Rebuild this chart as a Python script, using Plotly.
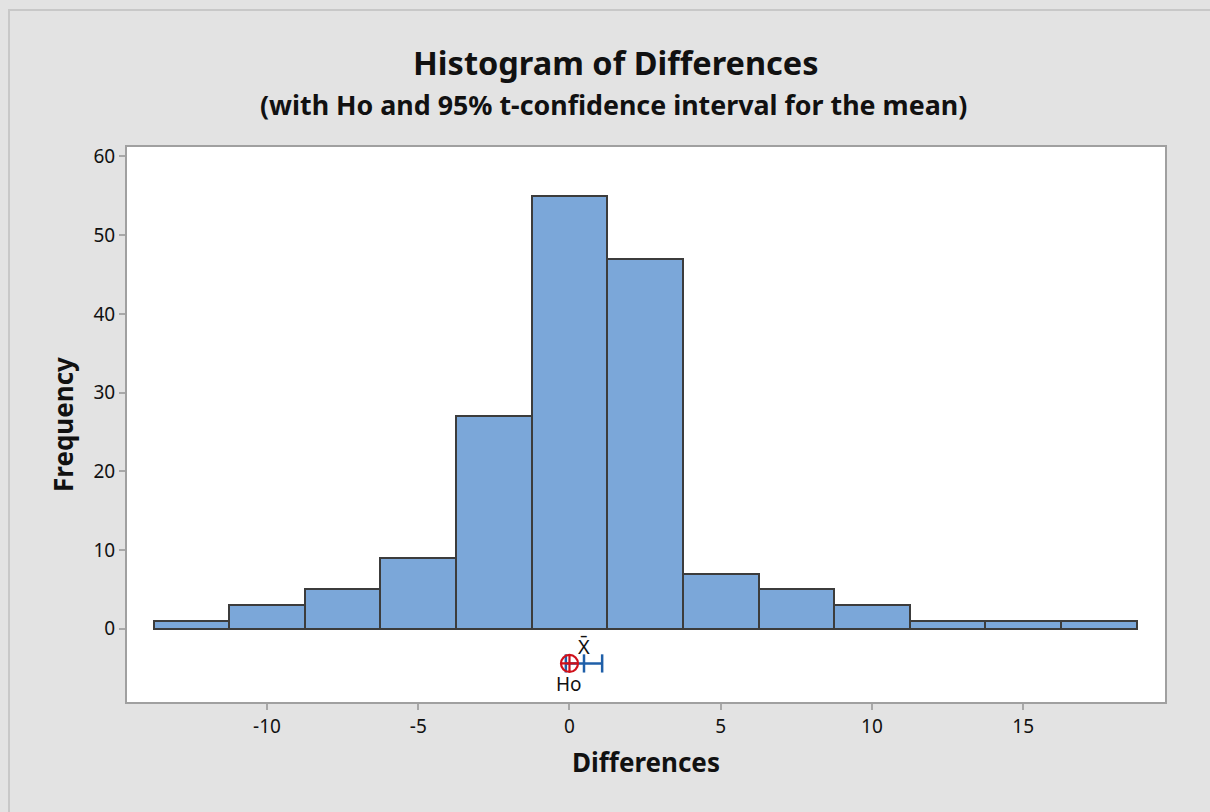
import plotly.graph_objects as go

bin_centers = [-12.5, -10, -7.5, -5, -2.5, 0, 2.5, 5, 7.5, 10, 12.5, 15, 17.5]
counts = [1, 3, 5, 9, 27, 55, 47, 7, 5, 3, 1, 1, 1]
bin_width = 2.5
h0 = 0.0
xbar = 0.48
ci_low, ci_high = -0.12, 1.08
ci_y = -4.4
x_ticks = [-10, -5, 0, 5, 10, 15]
x_tick_labels = ["-10", "-5", "0", "5", "10", "15"]
y_ticks = [0, 10, 20, 30, 40, 50, 60]

FONT = "Noto Sans"
fig = go.Figure()
fig.add_trace(go.Bar(
    x=bin_centers, y=counts, width=bin_width,
    marker=dict(color="#7BA7D9", line=dict(color="#3C3C3C", width=2)),
    hoverinfo="x+y", showlegend=False,
))
# CI line
fig.add_trace(go.Scatter(
    x=[ci_low, ci_high], y=[ci_y, ci_y], mode="lines+markers",
    line=dict(color="#1F5FA8", width=2.5),
    marker=dict(symbol="line-ns", size=13, line=dict(color="#1F5FA8", width=2.5)),
    showlegend=False, hoverinfo="skip",
))
fig.add_trace(go.Scatter(
    x=[xbar], y=[ci_y], mode="markers",
    marker=dict(symbol="line-ns", size=13, line=dict(color="#1F5FA8", width=2.5)),
    showlegend=False, hoverinfo="skip",
))
fig.add_trace(go.Scatter(
    x=[h0], y=[ci_y], mode="markers",
    marker=dict(symbol="circle-cross-open", size=17, color="#D0101A",
                line=dict(color="#D0101A", width=2.2)),
    showlegend=False, hoverinfo="skip",
))
fig.add_annotation(x=xbar, y=-2.2, text="X\u0304", showarrow=False,
                   font=dict(family=FONT, size=20, color="#111"))
fig.add_annotation(x=h0, y=-7.0, text="Ho", showarrow=False,
                   font=dict(family=FONT, size=19, color="#111"))

fig.add_annotation(xref="paper", yref="paper", x=0.471, y=1.0 + (147 - 62) / 555,
                   text="<b>Histogram of Differences</b>", showarrow=False,
                   font=dict(family=FONT, size=32.5, color="#111"), yanchor="middle")
fig.add_annotation(xref="paper", yref="paper", x=0.469, y=1.0 + (147 - 105) / 555,
                   text="<b>(with Ho and 95% t-confidence interval for the mean)</b>", showarrow=False,
                   font=dict(family=FONT, size=26.8, color="#111"), yanchor="middle")

# outer border
fig.add_shape(type="rect", xref="paper", yref="paper",
              x0=(9 - 127) / 1038, x1=(1220 - 127) / 1038,
              y0=(702 - 820) / 555, y1=(702 - 10) / 555,
              line=dict(color="#C8C8C8", width=2), fillcolor="rgba(0,0,0,0)", layer="below")

axis_common = dict(showgrid=False, zeroline=False, showline=True, linecolor="#A0A0A0",
                   linewidth=2, ticks="outside", ticklen=6, tickcolor="#A8A8A8", tickwidth=1.5,
                   mirror=True, tickfont=dict(family=FONT, size=19, color="#111"))
fig.update_xaxes(range=[-14.63, 19.69], tickvals=x_ticks, ticktext=x_tick_labels,
                 title=dict(text="<b>Differences</b>", font=dict(family=FONT, size=26, color="#111"), standoff=16),
                 **axis_common)
fig.update_yaxes(range=[-9.3, 61.2], tickvals=y_ticks,
                 title=dict(text="<b>Frequency</b>", font=dict(family=FONT, size=26, color="#111"), standoff=12),
                 **axis_common)
fig.update_layout(
    width=1210, height=812,
    margin=dict(l=127, r=45, t=147, b=110),
    paper_bgcolor="#E3E3E3", plot_bgcolor="white",
    bargap=0,
)
fig.write_html("out.html")
